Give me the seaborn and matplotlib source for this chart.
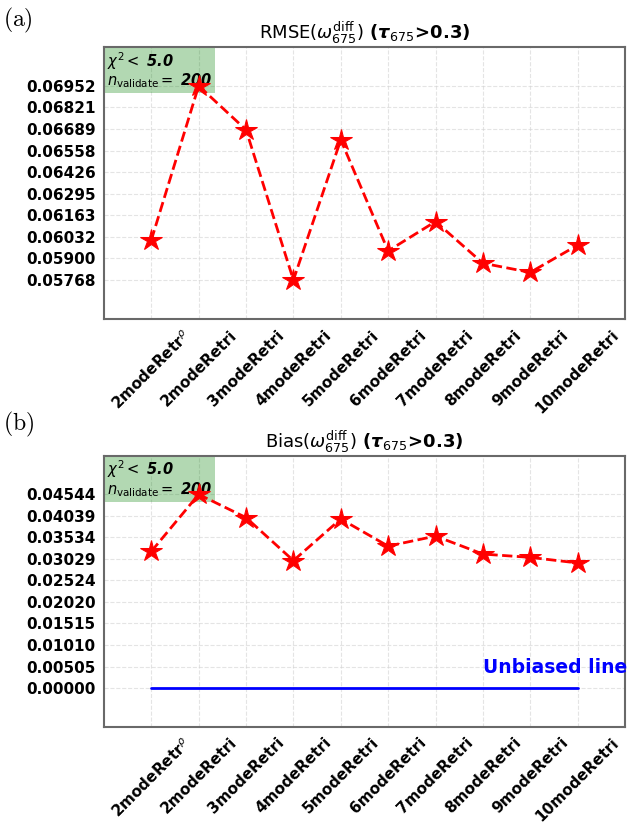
import numpy as np
import pandas as pd
import seaborn as sns
import matplotlib.pyplot as plt
from matplotlib.transforms import offset_copy

# model names on the x axis
models = [r"2modeRetr$^{\rho}$", "2modeRetri", "3modeRetri", "4modeRetri", "5modeRetri",
          "6modeRetri", "7modeRetri", "8modeRetri", "9modeRetri", "10modeRetri"]

# values
rmse_vals = [0.06012, 0.069524, 0.06684, 0.057684, 0.06623,
             0.05946, 0.06125, 0.05871, 0.05815, 0.05981]
bias_vals = [0.03206, 0.04544, 0.04000, 0.02990, 0.03968,
             0.03330, 0.03566, 0.03144, 0.03066, 0.02935]
unbiased = [0.0] * len(models)

chi2_max = "5.0"
n_validate = "200"

sns.set_style("whitegrid")
plt.rcParams['font.family'] = ['DejaVu Sans']
plt.rcParams['mathtext.fontset'] = 'dejavusans'
plt.rcParams['text.color'] = 'black'
plt.rcParams['xtick.color'] = 'black'
plt.rcParams['ytick.color'] = 'black'


def draw_panel(fig, ax, vals, title, with_line=False):
    """Draw one panel: red dashed line with star markers."""
    df = pd.DataFrame({'pos': np.arange(len(models)), 'val': vals})
    sns.lineplot(x='pos', y='val', data=df, ax=ax, color='red', linestyle='--',
                 linewidth=2, marker='*', markersize=16, markeredgecolor='red', zorder=3)
    lo, hi = min(vals), max(vals)
    if with_line:
        df0 = pd.DataFrame({'pos': np.arange(len(models)), 'val': unbiased})
        sns.lineplot(x='pos', y='val', data=df0, ax=ax, color='blue', linewidth=2)
        ax.text(7.0, 0.0036, 'Unbiased line', color='blue', fontsize=13.5,
                fontweight='bold', ha='left', va='baseline', clip_on=False)
        lo = min(lo, min(unbiased))

    ticks = np.linspace(lo, hi, 10)
    ax.set_yticks(ticks)
    ax.set_yticklabels([f"{t:.5f}" for t in ticks], fontsize=11, fontweight='bold')
    rng = hi - lo
    ax.set_ylim(lo - 0.2 * rng, hi + 0.2 * rng)

    ax.set_xticks(np.arange(len(models)))
    ax.set_xticklabels(models, rotation=45, ha='center', fontsize=11, fontweight='bold')
    ax.set_xlim(-1, 10)
    ax.set_xlabel('')
    ax.set_ylabel('')
    ax.set_title(title, fontsize=13, pad=6)

    ax.grid(True, linestyle='--', color='lightgray', alpha=0.6)
    for s in ax.spines.values():
        s.set_color('dimgray')
        s.set_linewidth(1.5)
    ax.tick_params(axis='both', length=4, color='dimgray', pad=2)

    # info box sitting in the top-left corner of the axes
    fs = 10.5
    pad = 0.2
    tr = offset_copy(ax.transAxes, fig=fig, x=pad * fs, y=-pad * fs, units='points')
    ax.text(0.0, 1.0, r"$\chi^2 <$ $\mathbfit{" + chi2_max + r"}$" + "\n"
            + r"$n_{\rm validate} =$ $\mathbfit{" + n_validate + r"}$",
            transform=tr, ha='left', va='top', fontsize=fs, linespacing=1.0, zorder=2,
            bbox=dict(boxstyle=f'square,pad={pad}', facecolor='green', alpha=0.3,
                      edgecolor='none'))


fig = plt.figure(figsize=(6.3, 8.24), dpi=100)
ax1 = fig.add_axes([0.165, 0.613, 0.827, 0.330])
ax2 = fig.add_axes([0.165, 0.118, 0.827, 0.329])

tail = r"$\mathbf{(}\boldsymbol{\tau}_{675}\!\mathbf{>}\!\mathbf{0.3)}$"
draw_panel(fig, ax1, rmse_vals, r"RMSE($\omega^{\rm diff}_{675}$) " + tail)
draw_panel(fig, ax2, bias_vals, r"Bias($\omega^{\rm diff}_{675}$) " + tail, with_line=True)

fig.text(0.005, 0.975, r"$\mathrm{(a)}$", fontsize=17, math_fontfamily='cm', va='center')
fig.text(0.005, 0.485, r"$\mathrm{(b)}$", fontsize=17, math_fontfamily='cm', va='center')

fig.savefig('out.png', dpi=100)
